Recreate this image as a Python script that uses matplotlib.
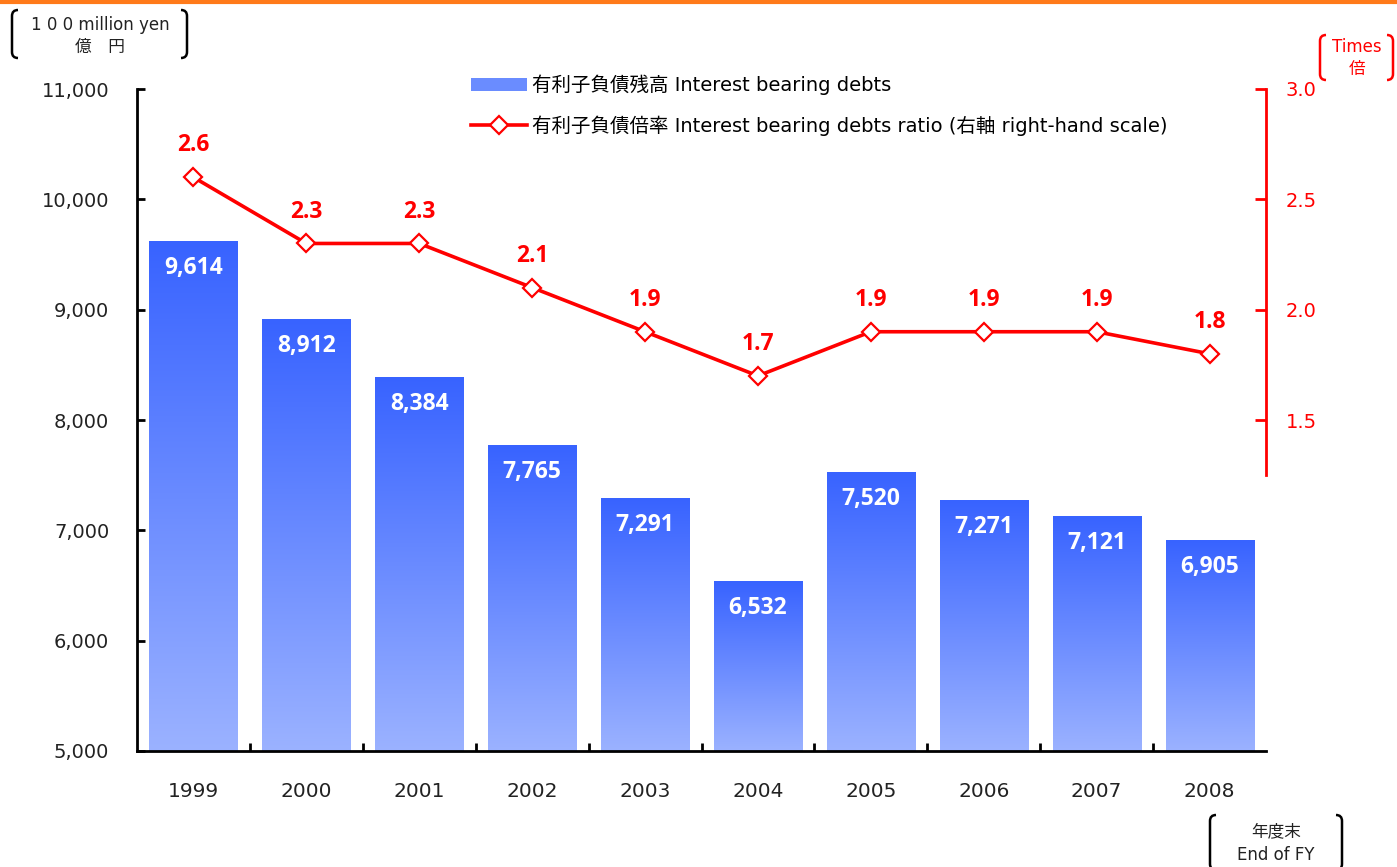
import numpy as np
import matplotlib
matplotlib.use('Agg')
import matplotlib.pyplot as plt
from matplotlib.path import Path
from matplotlib.patches import PathPatch, Patch
from matplotlib.lines import Line2D

plt.rcParams['font.family'] = ['DejaVu Sans', 'Noto Sans CJK JP']
BOLDFONT = ['Open Sans', 'DejaVu Sans']

years = ['1999', '2000', '2001', '2002', '2003', '2004', '2005', '2006', '2007', '2008']
debts = [9614, 8912, 8384, 7765, 7291, 6532, 7520, 7271, 7121, 6905]
ratio = [2.6, 2.3, 2.3, 2.1, 1.9, 1.7, 1.9, 1.9, 1.9, 1.8]

bar_label = '有利子負債残高 Interest bearing debts'
line_label = '有利子負債倍率 Interest bearing debts ratio (右軸 right-hand scale)'

RED = '#ff0000'
DARK = np.array([0x38, 0x63, 0xff]) / 255
LIGHT = np.array([0x9b, 0xb2, 0xff]) / 255

W, H = 1397, 867
fig = plt.figure(figsize=(W / 100, H / 100), dpi=100)
ax = fig.add_axes([137 / W, 1 - 751 / H, (1266 - 137) / W, (751 - 89) / H])
ax2 = ax.twinx()

# gradient bars
grad = np.linspace(0, 1, 256)[:, None, None]
img = LIGHT * (1 - grad) + DARK * grad
bw = 0.78
x = np.arange(len(years))
for xi, v in zip(x, debts):
    ax.imshow(img, extent=[xi - bw / 2, xi + bw / 2, 5000, v], origin='lower',
              aspect='auto', zorder=2, interpolation='bilinear')
    ax.annotate(f'{v:,}', (xi, v), xytext=(0, -19), textcoords='offset points',
                ha='center', va='center', color='white', fontsize=16.5, fontweight='bold',
                fontfamily=BOLDFONT)

ax.set_xlim(-0.5, len(years) - 0.5)
ax.set_ylim(5000, 11000)
ax.set_yticks(range(5000, 11001, 1000))
ax.set_yticklabels([f'{t:,}' for t in range(5000, 11001, 1000)])
ax.set_xticks(x)
ax.set_xticklabels(years)
ax.set_xticks(np.arange(0.5, len(years) - 1, 1), minor=True)
ax.tick_params(axis='x', which='major', length=0, pad=22, labelsize=14.5, colors='#222222')
ax.tick_params(axis='x', which='minor', direction='in', length=6, width=2)
ax.tick_params(axis='y', direction='in', length=6, width=2, pad=20, labelsize=14,
               colors='black', labelcolor='#222222')
for s in ['top', 'right']:
    ax.spines[s].set_visible(False)
ax.spines['left'].set_linewidth(2)
ax.spines['bottom'].set_linewidth(2)

# ratio line
ax2.plot(x, ratio, color=RED, lw=2.6, marker='D', markersize=9,
         markerfacecolor='white', markeredgecolor=RED, markeredgewidth=1.6, zorder=5)
for xi, r in zip(x, ratio):
    ax2.annotate(f'{r:.1f}', (xi, r), xytext=(0, 23), textcoords='offset points',
                 ha='center', va='center', color=RED, fontsize=16.5, fontweight='bold',
                 fontfamily=BOLDFONT)
ax2.set_ylim(0, 3.0)
ax2.set_yticks([1.5, 2.0, 2.5, 3.0])
ax2.set_yticklabels(['1.5', '2.0', '2.5', '3.0'])
ax2.tick_params(axis='y', direction='in', length=8, width=2, pad=14, labelsize=14,
                colors=RED, labelcolor=RED)
for s in ['top', 'left', 'bottom']:
    ax2.spines[s].set_visible(False)
ax2.spines['right'].set_color(RED)
ax2.spines['right'].set_linewidth(2)
ax2.spines['right'].set_bounds(1.25, 3.0)

# legend
handles = [Patch(facecolor='#6a8cff', edgecolor='none'),
           Line2D([], [], color=RED, lw=2.6, marker='D', markersize=9,
                  markerfacecolor='white', markeredgecolor=RED, markeredgewidth=1.6)]
fig.legend(handles, [bar_label, line_label], loc='upper left',
           bbox_to_anchor=(461 / W, 1 - 65 / H), frameon=False, fontsize=14,
           handlelength=2.9, handletextpad=0.25, labelspacing=1.05, borderpad=0)

# orange rule at top
fig.add_artist(Line2D([0, 1], [1 - 1.5 / H, 1 - 1.5 / H], color='#ff7a1a', lw=3,
                      transform=fig.transFigure))


def bracket_box(x0, x1, y0, y1, color):
    # rounded brackets in pixel coords (y from top)
    r = 6
    def fx(v):
        return v / W
    def fy(v):
        return 1 - v / H
    for side in (0, 1):
        if side == 0:
            xs, xi = x0, x0 + r
        else:
            xs, xi = x1, x1 - r
        verts = [(fx(xi), fy(y0)), (fx(xs), fy(y0)), (fx(xs), fy(y0 + r)),
                 (fx(xs), fy(y1 - r)), (fx(xs), fy(y1)), (fx(xi), fy(y1))]
        codes = [Path.MOVETO, Path.CURVE3, Path.CURVE3, Path.LINETO, Path.CURVE3, Path.CURVE3]
        fig.add_artist(PathPatch(Path(verts, codes), fill=False, edgecolor=color, lw=1.8,
                                 transform=fig.transFigure))


bracket_box(12, 187, 10, 58, 'black')
fig.text(100 / W, 1 - 25 / H, '1 0 0 million yen', ha='center', va='center', fontsize=12, color='#222222')
fig.text(100 / W, 1 - 47 / H, '億　円', ha='center', va='center', fontsize=12, color='#222222')

bracket_box(1320, 1393, 35, 80, RED)
fig.text(1357 / W, 1 - 47 / H, 'Times', ha='center', va='center', fontsize=12, color=RED)
fig.text(1357 / W, 1 - 69 / H, '倍', ha='center', va='center', fontsize=12, color=RED)

bracket_box(1210, 1342, 815, 870, 'black')
fig.text(1276 / W, 1 - 831 / H, '年度末', ha='center', va='center', fontsize=12, color='#222222')
fig.text(1276 / W, 1 - 855 / H, 'End of FY', ha='center', va='center', fontsize=12, color='#222222')

fig.savefig('out.png', dpi=100)
